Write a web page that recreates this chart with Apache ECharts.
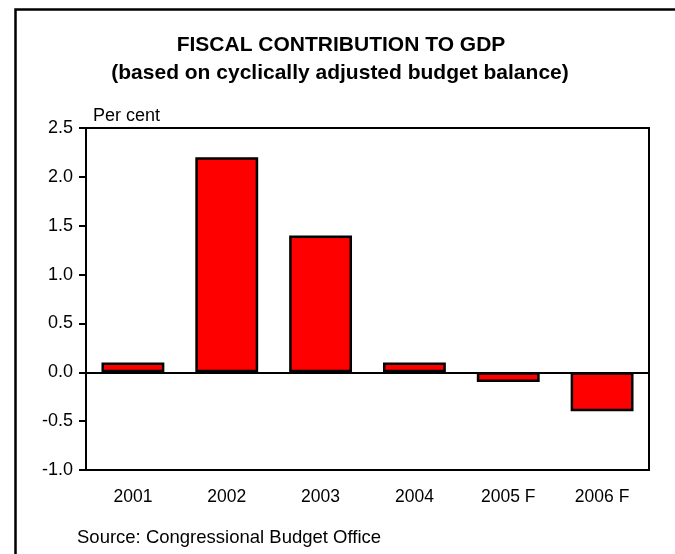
<!DOCTYPE html>
<html>
<head>
<meta charset="utf-8">
<script src="https://cdn.jsdelivr.net/npm/echarts@6/dist/echarts.min.js"></script>
<style>
html,body{margin:0;padding:0;background:#fff;}
#chart{width:675px;height:554px;}
</style>
</head>
<body>
<div id="chart"></div>
<script>
const categories = ['2001', '2002', '2003', '2004', '2005 F', '2006 F'];
const contribution = [0.1, 2.2, 1.4, 0.1, -0.1, -0.4];
const yMin = -1.0, yMax = 2.5, yStep = 0.5;
const titleText = 'FISCAL CONTRIBUTION TO GDP';
const subtitleText = '(based on cyclically adjusted budget balance)';
const unitText = 'Per cent';
const sourceText = 'Source: Congressional Budget Office';

const FONT = '"Liberation Sans", Arial, sans-serif';
const chart = echarts.init(document.getElementById('chart'), null, {renderer: 'canvas'});
chart.setOption({
  animation: false,
  backgroundColor: '#ffffff',
  grid: {left: 86, top: 128, right: 26, bottom: 84, show: true, borderColor: '#000', borderWidth: 2, backgroundColor: 'transparent'},
  xAxis: {
    type: 'category',
    data: categories,
    axisLine: {onZero: false, lineStyle: {color: '#000', width: 2}},
    axisTick: {show: false},
    axisLabel: {color: '#000', fontSize: 17.5, fontFamily: FONT, margin: 18},
    splitLine: {show: false}
  },
  yAxis: {
    type: 'value',
    min: yMin, max: yMax, interval: yStep,
    axisLine: {show: true, lineStyle: {color: '#000', width: 2}},
    axisTick: {show: true, length: 7, lineStyle: {color: '#000', width: 2}},
    axisLabel: {color: '#000', fontSize: 18, fontFamily: FONT, margin: 13, formatter: v => v.toFixed(1)},
    splitLine: {show: false}
  },
  series: [{
    type: 'bar',
    data: contribution,
    barWidth: '67%',
    itemStyle: {color: '#ff0000', borderColor: '#000', borderWidth: 2.5},
    markLine: {
      silent: true, symbol: 'none', label: {show: false},
      lineStyle: {color: '#000', width: 2, type: 'solid'},
      data: [{yAxis: 0}]
    }
  }],
  graphic: [
    {type: 'rect', shape: {x: 15.5, y: 9.5, width: 900, height: 900}, style: {fill: 'none', stroke: '#000', lineWidth: 2.5}, z: 100},
    {type: 'text', x: 341, y: 45, style: {text: titleText, fill: '#000', font: 'bold 21px ' + FONT, align: 'center', verticalAlign: 'middle'}},
    {type: 'text', x: 340, y: 73, style: {text: subtitleText, fill: '#000', font: 'bold 21px ' + FONT, align: 'center', verticalAlign: 'middle'}},
    {type: 'text', x: 93, y: 116, style: {text: unitText, fill: '#000', font: '18px ' + FONT, align: 'left', verticalAlign: 'middle'}},
    {type: 'text', x: 77, y: 538, style: {text: sourceText, fill: '#000', font: '18.5px ' + FONT, align: 'left', verticalAlign: 'middle'}}
  ]
});
</script>
</body>
</html>
